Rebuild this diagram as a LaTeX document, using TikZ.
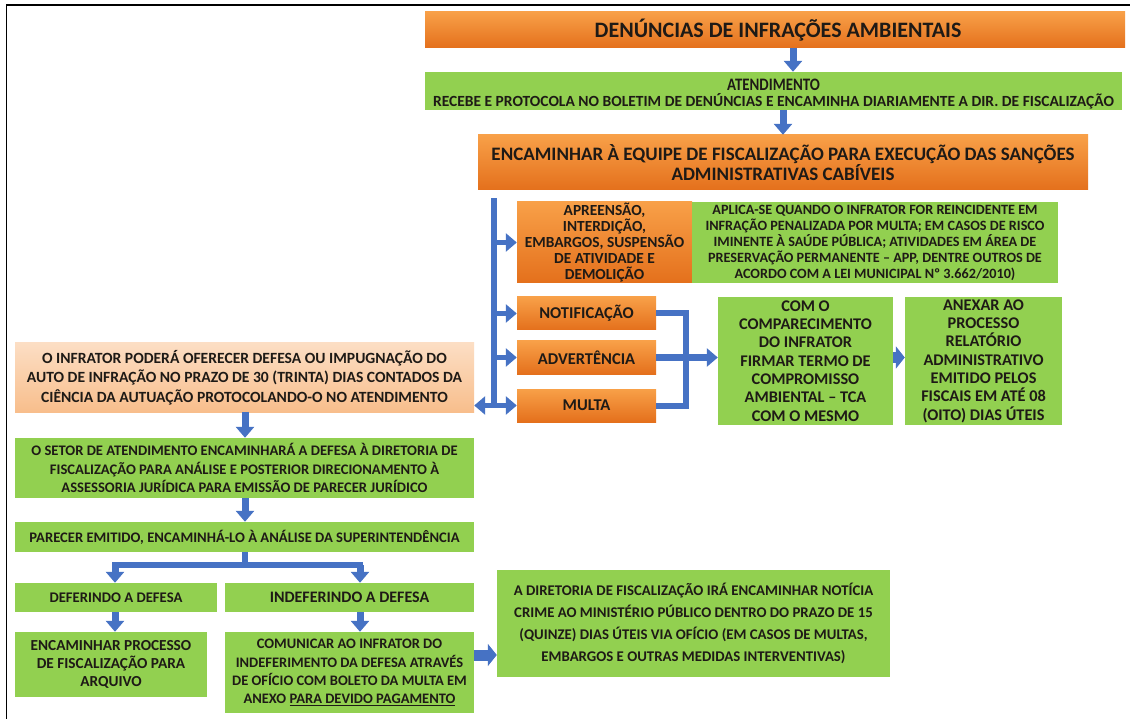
\documentclass[tikz,border=0pt]{standalone}
\usepackage{fontspec}
\setmainfont{Carlito}
\usetikzlibrary{arrows.meta}
\definecolor{gr}{RGB}{146,208,80}
\definecolor{ortop}{RGB}{248,160,72}
\definecolor{orbot}{RGB}{228,112,28}
\definecolor{pktop}{RGB}{252,222,196}
\definecolor{pkbot}{RGB}{248,190,140}
\definecolor{bl}{RGB}{70,114,196}
\definecolor{tx}{RGB}{30,26,22}
\newcommand{\fs}[2]{\bfseries\fontsize{#1}{#2}\selectfont}
\begin{document}
\begin{tikzpicture}[x=1pt,y=-1pt,
  bx/.style={inner sep=0pt,align=center,text=tx,font=\bfseries},
  gbox/.style={bx,fill=gr},
  obox/.style={bx,top color=ortop,bottom color=orbot},
  pbox/.style={bx,top color=pktop,bottom color=pkbot},
  barrow/.style={draw=bl,line width=7pt,-{Triangle[length=11pt,width=18pt]}},
  fatarrow/.style={draw=bl,line width=11pt,-{Triangle[length=9pt,width=22pt]}},
  bline/.style={draw=bl,line width=6pt}]
\useasboundingbox (0,0) rectangle (1130,719);
\fill[white] (0,0) rectangle (1130,719);
\draw[line width=1.6pt] (6.5,740) -- (6.5,5) -- (1150,5);

\node[obox,minimum width=700,minimum height=36,font=\fs{22}{24}] (n1) at (775,30) {\hspace*{6pt}DENÚNCIAS DE INFRAÇÕES AMBIENTAIS};
\node[gbox,minimum width=697,minimum height=38,font=\fs{15.5}{16}] (n2) at (773.5,91) {\rule{0pt}{18pt}\scalebox{0.85}[1]{\fontsize{17.5}{17}\selectfont ATENDIMENTO}\\RECEBE E PROTOCOLA NO BOLETIM DE DENÚNCIAS E ENCAMINHA DIARIAMENTE A DIR. DE FISCALIZAÇÃO};
\node[obox,minimum width=610,minimum height=55,font=\fs{19}{19.5}] (n3) at (783,162.5) {ENCAMINHAR À EQUIPE DE FISCALIZAÇÃO PARA EXECUÇÃO DAS SANÇÕES\\ADMINISTRATIVAS CABÍVEIS};
\node[obox,minimum width=175,minimum height=81,font=\fs{15.4}{16.2}] (n4) at (604.5,242.5) {APREENSÃO,\\INTERDIÇÃO,\\EMBARGOS, SUSPENSÃO\\DE ATIVIDADE E\\DEMOLIÇÃO};
\node[gbox,minimum width=366,minimum height=81,font=\fs{14.2}{16}] (n5) at (875,242.5) {APLICA-SE QUANDO O INFRATOR FOR REINCIDENTE EM\\INFRAÇÃO PENALIZADA POR MULTA; EM CASOS DE RISCO\\IMINENTE À SAÚDE PÚBLICA; ATIVIDADES EM ÁREA DE\\PRESERVAÇÃO PERMANENTE – APP, DENTRE OUTROS DE\\ACORDO COM A LEI MUNICIPAL Nº 3.662/2010)};
\node[obox,minimum width=139,minimum height=33,font=\fs{16.5}{18}] (n6) at (586.5,313.5) {NOTIFICAÇÃO};
\node[obox,minimum width=139,minimum height=33,font=\fs{16.5}{18}] (n7) at (586.5,357.5) {ADVERTÊNCIA};
\node[obox,minimum width=139,minimum height=33,font=\fs{16.5}{18}] (n8) at (586.5,405.5) {MULTA};
\node[gbox,minimum width=175,minimum height=128,font=\fs{16.3}{18.3}] (n9) at (805.5,361) {COM O\\COMPARECIMENTO\\DO INFRATOR\\FIRMAR TERMO DE\\COMPROMISSO\\AMBIENTAL – TCA\\COM O MESMO};
\node[gbox,minimum width=157,minimum height=128,font=\fs{16.3}{18.3}] (n10) at (983.5,361) {ANEXAR AO\\PROCESSO\\RELATÓRIO\\ADMINISTRATIVO\\EMITIDO PELOS\\FISCAIS EM ATÉ 08\\(OITO) DIAS ÚTEIS};
\node[pbox,minimum width=459,minimum height=69,font=\fs{15.6}{19.5}] (n11) at (244.5,377.5) {O INFRATOR PODERÁ OFERECER DEFESA OU IMPUGNAÇÃO DO\\AUTO DE INFRAÇÃO NO PRAZO DE 30 (TRINTA) DIAS CONTADOS DA\\CIÊNCIA DA AUTUAÇÃO PROTOCOLANDO-O NO ATENDIMENTO};
\node[gbox,minimum width=459,minimum height=60,font=\fs{14.6}{18.5}] (n12) at (244.5,468) {O SETOR DE ATENDIMENTO ENCAMINHARÁ A DEFESA À DIRETORIA DE\\FISCALIZAÇÃO PARA ANÁLISE E POSTERIOR DIRECIONAMENTO À\\ASSESSORIA JURÍDICA PARA EMISSÃO DE PARECER JURÍDICO};
\node[gbox,minimum width=459,minimum height=30,font=\fs{14.6}{16}] (n13) at (244.5,537) {PARECER EMITIDO, ENCAMINHÁ-LO À ANÁLISE DA SUPERINTENDÊNCIA};
\node[gbox,minimum width=202,minimum height=29,font=\fs{14.7}{16}] (n14) at (116,597.5) {DEFERINDO A DEFESA};
\node[gbox,minimum width=249,minimum height=29,font=\fs{16}{16}] (n15) at (349.5,597.5) {INDEFERINDO A DEFESA};
\node[gbox,minimum width=192,minimum height=65,font=\fs{15.3}{18.3}] (n16) at (111,664.5) {ENCAMINHAR PROCESSO\\DE FISCALIZAÇÃO PARA\\ARQUIVO};
\node[gbox,minimum width=249,minimum height=81,font=\fs{14.5}{18.2}] (n17) at (349.5,672.5) {COMUNICAR AO INFRATOR DO\\INDEFERIMENTO DA DEFESA ATRAVÉS\\DE OFÍCIO COM BOLETO DA MULTA EM\\ANEXO \underline{PARA DEVIDO PAGAMENTO}};
\node[gbox,minimum width=393,minimum height=107,font=\fs{14.8}{22}] (n18) at (693.5,623.5) {A DIRETORIA DE FISCALIZAÇÃO IRÁ ENCAMINHAR NOTÍCIA\\CRIME AO MINISTÉRIO PÚBLICO DENTRO DO PRAZO DE 15\\(QUINZE) DIAS ÚTEIS VIA OFÍCIO (EM CASOS DE MULTAS,\\EMBARGOS E OUTRAS MEDIDAS INTERVENTIVAS)};

% coordinates
\coordinate (c1) at (793,0);
\coordinate (c2) at (783,0);
\coordinate (tr) at (494,0);
\coordinate (br) at (686,0);
\coordinate (lc) at (245,0);
\coordinate (lb) at (115,0);
\coordinate (rb) at (360,0);
\coordinate (sp) at (0,565);
\coordinate (ty) at (0,405.5);

% top arrows
\draw[barrow] (n1.south -| c1) -- (n2.north -| c1);
\draw[barrow] (n2.south -| c2) -- (n3.north -| c2);

% trunk
\draw[draw=bl,line width=6pt] ([yshift=-8pt]n3.south -| tr) -- (ty -| tr);
\draw[barrow,line width=5pt] (tr |- n4.west) -- (n4.west);
\draw[barrow,line width=5pt] (tr |- n6.west) -- (n6.west);
\draw[barrow,line width=5pt] (tr |- n7.west) -- (n7.west);
\draw[barrow,line width=5pt] ([xshift=-3pt]tr |- n8.west) -- (n8.west);
\draw[barrow,line width=5pt] ([xshift=3pt]tr |- ty) -- (n11.east |- ty);

% bracket
\draw[bline] (n6.east) -- (br |- n6.east) -- (br |- n8.east) -- (n8.east);
\draw[barrow] (n7.east) -- (n9.west |- n7.east);
\draw[fatarrow] (n9.east |- n7.east) -- (n10.west |- n7.east);

% left column
\draw[barrow] (n11.south -| lc) -- (n12.north -| lc);
\draw[barrow] (n12.south -| lc) -- (n13.north -| lc);
\draw[bline] (n13.south -| lc) -- (lc |- sp);
\draw[bline] ([xshift=-3pt]lb |- sp) -- ([xshift=3pt]rb |- sp);
\draw[barrow] (lb |- sp) -- (n14.north -| lb);
\draw[barrow] (rb |- sp) -- (n15.north -| rb);
\draw[barrow] (n14.south -| lb) -- (n16.north -| lb);
\draw[barrow] (n15.south -| rb) -- (n17.north -| rb);
\coordinate (fy) at (0,655);
\draw[fatarrow] (n17.east |- fy) -- (n18.west |- fy);
\end{tikzpicture}
\end{document}
